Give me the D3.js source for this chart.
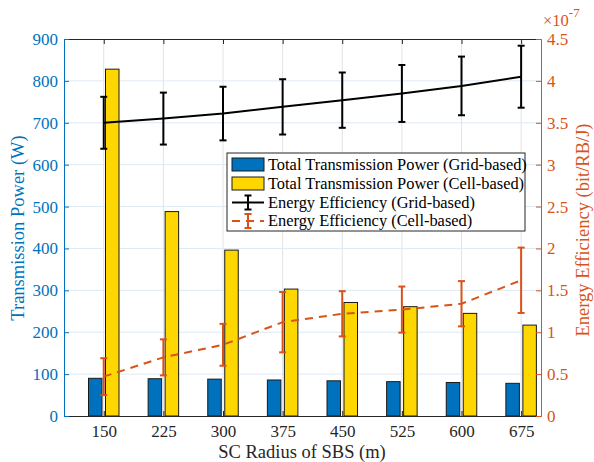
<!DOCTYPE html>
<html>
<head>
<meta charset="utf-8">
<script src="https://cdn.jsdelivr.net/npm/d3@7"></script>
<style>
body { margin:0; background:#fff; }
</style>
</head>
<body>
<div id="chart"></div>
<script>
var margin = {t:39, r:53, b:46, l:64};
var W = 594, H = 462;
var width = W - margin.l - margin.r,
    height = H - margin.t - margin.b;
var serif = 'Liberation Serif';

// data
var radius = [150, 225, 300, 375, 450, 525, 600, 675];
var powerGrid = [90, 89, 88, 86, 84, 82, 80, 78];
var powerCell = [828, 488, 396, 303, 271, 261, 245, 217];
var eeGrid = [3.50, 3.55, 3.61, 3.69, 3.77, 3.85, 3.94, 4.05];
var eeGridErr = [0.31, 0.31, 0.32, 0.33, 0.33, 0.34, 0.35, 0.37];
var eeCell = [0.47, 0.70, 0.85, 1.12, 1.22, 1.27, 1.34, 1.62];
var eeCellErr = [0.22, 0.215, 0.25, 0.36, 0.27, 0.275, 0.27, 0.39];
var leftTicks = [0, 100, 200, 300, 400, 500, 600, 700, 800, 900];
var rightTicks = [0, 0.5, 1, 1.5, 2, 2.5, 3, 3.5, 4, 4.5];
var legendLabels = ["Total Transmission Power (Grid-based)", "Total Transmission Power (Cell-based)",
    "Energy Efficiency (Grid-based)", "Energy Efficiency (Cell-based)"];

var blue = "#0072BD", yellow = "#FFD700", orange = "#D95319";

var svg = d3.select('#chart').append('svg')
    .attr('width', W).attr('height', H);
var g = svg.append('g').attr('transform', 'translate(' + margin.l + ',' + margin.t + ')');

var x = d3.scaleLinear().domain([100, 700]).range([0, width]);
var yL = d3.scaleLinear().domain([0, 900]).range([height, 0]);
var yR = d3.scaleLinear().domain([0, 4.5]).range([height, 0]);

// grid
g.selectAll('.vgrid').data(radius).enter().append('line')
    .attr('x1', function(d){return x(d);}).attr('x2', function(d){return x(d);})
    .attr('y1', 0).attr('y2', height)
    .attr('stroke', '#e3e3e3').attr('stroke-width', 1);
g.selectAll('.hgrid').data(leftTicks.slice(1, -1)).enter().append('line')
    .attr('x1', 0).attr('x2', width)
    .attr('y1', function(d){return yL(d);}).attr('y2', function(d){return yL(d);})
    .attr('stroke', '#dde9f4').attr('stroke-width', 1);

// bars
var bw = 13.5, off = 8.5;
g.selectAll('.barG').data(radius).enter().append('rect')
    .attr('x', function(d){return x(d) - off - bw/2;})
    .attr('y', function(d, i){return yL(powerGrid[i]);})
    .attr('width', bw)
    .attr('height', function(d, i){return height - yL(powerGrid[i]);})
    .attr('fill', blue).attr('stroke', '#1a1a1a').attr('stroke-width', 1);
g.selectAll('.barC').data(radius).enter().append('rect')
    .attr('x', function(d){return x(d) + off - bw/2;})
    .attr('y', function(d, i){return yL(powerCell[i]);})
    .attr('width', bw)
    .attr('height', function(d, i){return height - yL(powerCell[i]);})
    .attr('fill', yellow).attr('stroke', '#1a1a1a').attr('stroke-width', 1);

// energy efficiency lines with error bars
function errLine(vals, errs, color, dash) {
    var line = d3.line()
        .x(function(d, i){return x(radius[i]);})
        .y(function(d){return yR(d);});
    g.append('path').datum(vals)
        .attr('d', line)
        .attr('fill', 'none')
        .attr('stroke', color).attr('stroke-width', 2)
        .attr('stroke-dasharray', dash);
    var eb = g.selectAll(null).data(vals).enter().append('g')
        .attr('stroke', color).attr('stroke-width', 2);
    eb.append('line')
        .attr('x1', function(d, i){return x(radius[i]);})
        .attr('x2', function(d, i){return x(radius[i]);})
        .attr('y1', function(d, i){return yR(d + errs[i]);})
        .attr('y2', function(d, i){return yR(d - errs[i]);});
    [1, -1].forEach(function(s){
        eb.append('line')
            .attr('x1', function(d, i){return x(radius[i]) - 3.5;})
            .attr('x2', function(d, i){return x(radius[i]) + 3.5;})
            .attr('y1', function(d, i){return yR(d + s*errs[i]);})
            .attr('y2', function(d, i){return yR(d + s*errs[i]);});
    });
}
errLine(eeGrid, eeGridErr, '#000', null);
errLine(eeCell, eeCellErr, orange, '8,6');

// axes
var xAxis = g.append('g').attr('transform', 'translate(0,' + height + ')')
    .call(d3.axisBottom(x).tickValues(radius).tickSizeInner(-5).tickSizeOuter(0).tickPadding(9));
xAxis.select('.domain').attr('stroke', '#262626');
xAxis.selectAll('line').attr('stroke', '#262626');
xAxis.selectAll('text').attr('font-family', serif).attr('font-size', '17px').attr('fill', '#262626');

var xTop = g.append('g')
    .call(d3.axisTop(x).tickValues(radius).tickSizeInner(-5).tickSizeOuter(0).tickFormat(''));
xTop.select('.domain').attr('stroke', '#262626');
xTop.selectAll('line').attr('stroke', '#262626');

var yAxisL = g.append('g')
    .call(d3.axisLeft(yL).tickValues(leftTicks).tickSizeInner(-5).tickSizeOuter(0).tickPadding(6));
yAxisL.select('.domain').attr('stroke', blue);
yAxisL.selectAll('line').attr('stroke', blue);
yAxisL.selectAll('text').attr('font-family', serif).attr('font-size', '17px').attr('fill', blue);

var yAxisR = g.append('g').attr('transform', 'translate(' + width + ',0)')
    .call(d3.axisRight(yR).tickValues(rightTicks).tickSizeInner(-5).tickSizeOuter(0).tickPadding(6)
        .tickFormat(function(d){return d3.format('')(d);}));
yAxisR.select('.domain').attr('stroke', orange);
yAxisR.selectAll('line').attr('stroke', orange);
yAxisR.selectAll('text').attr('font-family', serif).attr('font-size', '17px').attr('fill', orange);

// exponent label
var expo = svg.append('text').attr('x', 543).attr('y', 26)
    .attr('font-family', serif).attr('fill', orange).attr('font-size', '16.5px');
expo.append('tspan').text('\u00d710');
expo.append('tspan').attr('dy', -9).attr('font-size', '13px').text('-7');

// axis titles
svg.append('text').attr('x', 302).attr('y', 458)
    .attr('text-anchor', 'middle').attr('font-family', serif).attr('font-size', '18.5px').attr('fill', '#262626')
    .text('SC Radius of SBS (m)');
svg.append('text').attr('transform', 'translate(24,228) rotate(-90)')
    .attr('text-anchor', 'middle').attr('font-family', serif).attr('font-size', '18.5px').attr('fill', blue)
    .text('Transmission Power (W)');
svg.append('text').attr('transform', 'translate(589,230) rotate(-90)')
    .attr('text-anchor', 'middle').attr('font-family', serif).attr('font-size', '18.5px').attr('fill', orange)
    .text('Energy Efficiency (bit/RB/J)');

// legend
var lg = svg.append('g').attr('transform', 'translate(227,153)');
lg.append('rect').attr('width', 298).attr('height', 78)
    .attr('fill', '#fff').attr('stroke', '#262626').attr('stroke-width', 1);
var rowY = [11.5, 30.5, 49.5, 68];
var swatchFill = [blue, yellow];
swatchFill.forEach(function(c, i){
    lg.append('rect').attr('x', 5).attr('y', rowY[i] - 6.5)
        .attr('width', 32).attr('height', 13)
        .attr('fill', c).attr('stroke', '#1a1a1a').attr('stroke-width', 1);
});
[['#000', null], [orange, '8,6']].forEach(function(s, k){
    var cy = rowY[k + 2];
    var sg = lg.append('g').attr('stroke', s[0]).attr('stroke-width', 2);
    sg.append('line').attr('x1', 5).attr('x2', 37).attr('y1', cy).attr('y2', cy)
        .attr('stroke-dasharray', s[1]);
    sg.append('line').attr('x1', 21).attr('x2', 21).attr('y1', cy - 7).attr('y2', cy + 7);
    sg.append('line').attr('x1', 17.5).attr('x2', 24.5).attr('y1', cy - 7).attr('y2', cy - 7);
    sg.append('line').attr('x1', 17.5).attr('x2', 24.5).attr('y1', cy + 7).attr('y2', cy + 7);
});
lg.selectAll('.lt').data(legendLabels).enter().append('text')
    .attr('x', 41).attr('y', function(d, i){return rowY[i] + 5;})
    .attr('font-family', serif).attr('font-size', '16.4px').attr('fill', '#000')
    .text(function(d){return d;});
</script>
</body>
</html>
